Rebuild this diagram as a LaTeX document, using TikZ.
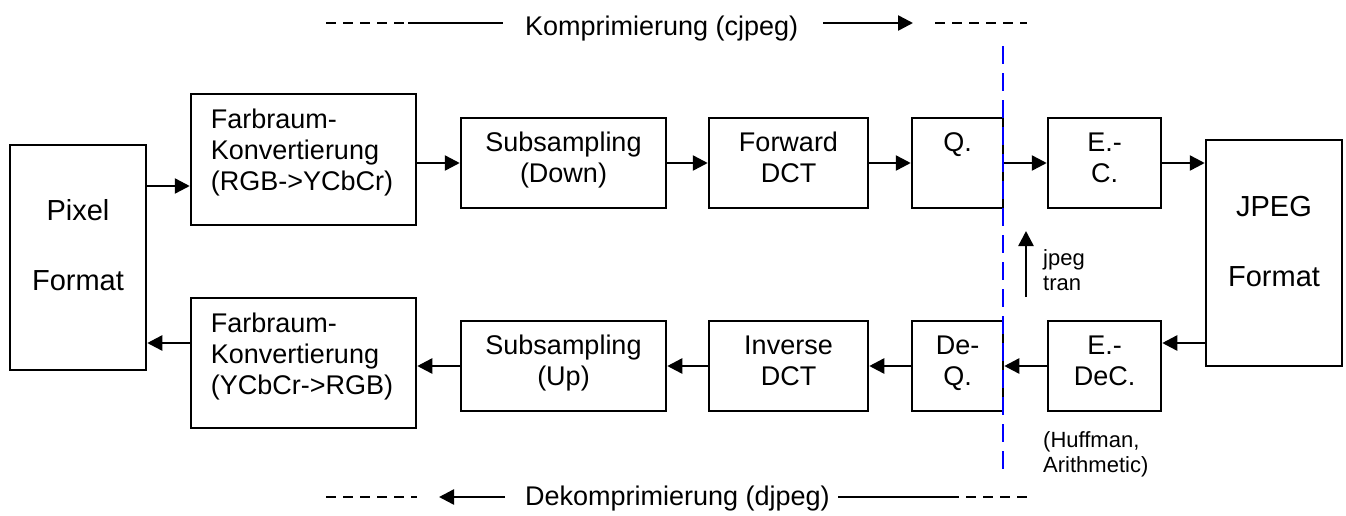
\documentclass[tikz,border=0pt]{standalone}
\usepackage{fontspec}
\setmainfont{Liberation Sans}
\usetikzlibrary{arrows.meta}
\begin{document}
\begin{tikzpicture}[x=1pt,y=-1pt,
  box/.style={draw, line width=2.5pt, inner sep=0pt},
  lbl/.style={font=\fontsize{27}{31}\selectfont, align=center, inner sep=0pt, anchor=north},
  big/.style={font=\fontsize{29}{35}\selectfont, align=center, inner sep=0pt, anchor=north},
  small/.style={font=\fontsize{22}{25}\selectfont, align=left, inner sep=0pt, anchor=north west},
  head/.style={font=\fontsize{27}{31}\selectfont, inner sep=0pt, anchor=base west},
  arr/.style={line width=2.5pt, -{Triangle[length=15pt,width=15pt]}},
  plain/.style={line width=2.5pt},
  dashline/.style={line width=2.5pt, dash pattern=on 10pt off 7pt},
  cut/.style={blue, line width=2.5pt, dash pattern=on 18pt off 9pt}]
\useasboundingbox (0,0) rectangle (1346,515);

% blocks of the compression path (top row)
\node[box, minimum width=136pt, minimum height=225pt] (pix)  at (78,257.5)   {};
\node[box, minimum width=225pt, minimum height=131pt] (fc1)  at (303.5,159.5) {};
\node[box, minimum width=205pt, minimum height=90pt]  (ss1)  at (563.5,163)  {};
\node[box, minimum width=159pt, minimum height=90pt]  (dct1) at (788.5,163)  {};
\node[box, minimum width=91pt,  minimum height=90pt]  (q)    at (957.5,163)  {};
\node[box, minimum width=113pt, minimum height=90pt]  (ec)   at (1104.5,163) {};
\node[box, minimum width=136pt, minimum height=226pt] (jpg)  at (1274,253)   {};

% blocks of the decompression path (bottom row)
\node[box, minimum width=225pt, minimum height=130pt] (fc2)  at (303.5,363)  {};
\node[box, minimum width=205pt, minimum height=90pt]  (ss2)  at (563.5,366)  {};
\node[box, minimum width=159pt, minimum height=90pt]  (dct2) at (788.5,366)  {};
\node[box, minimum width=91pt,  minimum height=90pt]  (dq)   at (957.5,366)  {};
\node[box, minimum width=113pt, minimum height=90pt]  (ed)   at (1104.5,366) {};

% block texts
\node[big] (t-pix) at ([yshift=-52.5pt]pix.north) {\strut Pixel\\[35pt]Format};
\node[big] (t-jpg) at ([yshift=-53.5pt]jpg.north) {\strut JPEG\\[35pt]Format};
\node[lbl, align=left, anchor=north west] (t-fc1) at ([xshift=21pt,yshift=-14pt]fc1.north west)
  {\strut Farbraum-\\Konvertierung\\(RGB->YCbCr)};
\node[lbl, align=left, anchor=north west] (t-fc2) at ([xshift=21pt,yshift=-14pt]fc2.north west)
  {\strut Farbraum-\\Konvertierung\\(YCbCr->RGB)};
\node[lbl] (t-ss1)  at ([yshift=-13.3pt]ss1.north)  {\strut Subsampling\\(Down)};
\node[lbl] (t-dct1) at ([yshift=-13.3pt]dct1.north) {\strut Forward\\DCT};
\node[lbl] (t-q)    at ([yshift=-13.3pt]q.north)    {\strut Q.};
\node[lbl] (t-ec)   at ([yshift=-13.3pt]ec.north)   {\strut E.-\\C.};
\node[lbl] (t-ss2)  at ([yshift=-13.3pt]ss2.north)  {\strut Subsampling\\(Up)};
\node[lbl] (t-dct2) at ([yshift=-13.3pt]dct2.north) {\strut Inverse\\DCT};
\node[lbl] (t-dq)   at ([yshift=-13.3pt]dq.north)   {\strut De-\\Q.};
\node[lbl] (t-ed)   at ([yshift=-13.3pt]ed.north)   {\strut E.-\\DeC.};

% row levels of the outer arrows
\coordinate (ya) at (0,186);
\coordinate (yb) at (0,343);

% compression flow
\draw[arr] (pix.east |- ya) -- (fc1.west |- ya);
\draw[arr] (fc1.east |- ss1) -- (ss1);
\draw[arr] (ss1) -- (dct1);
\draw[arr] (dct1) -- (q);
\draw[arr] (q) -- (ec);
\draw[arr] (ec) -- (jpg.west |- ec);

% decompression flow
\draw[arr] (jpg.west |- yb) -- (ed.east |- yb);
\draw[arr] (ed) -- (dq);
\draw[arr] (dq) -- (dct2);
\draw[arr] (dct2) -- (ss2);
\draw[arr] (ss2) -- (fc2.east |- ss2);
\draw[arr] (fc2.west |- yb) -- (pix.east |- yb);

% jpegtran works on the quantised data
\coordinate (jt0) at (1026,297);
\coordinate (jt1) at (1026,231);
\draw[arr] (jt0) -- (jt1);
\node[small] (jt) at (1043,247.5) {\strut jpeg\\tran};
\node[small] (huff) at (1043,429.5) {\strut(Huffman,\\Arithmetic)};

% dividing line between lossy and lossless stages
\coordinate (c0) at (1003,46);
\coordinate (c1) at (1003,470);
\draw[cut] (c0) -- (c1);

% headline: compression direction
\node[head] (komp) at (525,35) {Komprimierung (cjpeg)};
\coordinate (k1) at (326,23);
\coordinate (k2) at (408,23);
\coordinate (k3) at (503,23);
\coordinate (k4) at (823,23);
\coordinate (k5) at (913,23);
\coordinate (k6) at (935,23);
\coordinate (k7) at (1027,23);
\draw[dashline] (k1) -- (k2);
\draw[plain] (k2) -- (k3);
\draw[arr] (k4) -- (k5);
\draw[dashline] (k6) -- (k7);

% footline: decompression direction
\node[head] (dekomp) at (525,505) {Dekomprimierung (djpeg)};
\coordinate (d1) at (326,497);
\coordinate (d2) at (417,497);
\coordinate (d3) at (439,497);
\coordinate (d4) at (505,497);
\coordinate (d5) at (838,497);
\coordinate (d6) at (949,497);
\coordinate (d7) at (1029,497);
\draw[dashline] (d1) -- (d2);
\draw[arr] (d4) -- (d3);
\draw[plain] (d5) -- (d6);
\draw[dashline] (d6) -- (d7);
\end{tikzpicture}
\end{document}
